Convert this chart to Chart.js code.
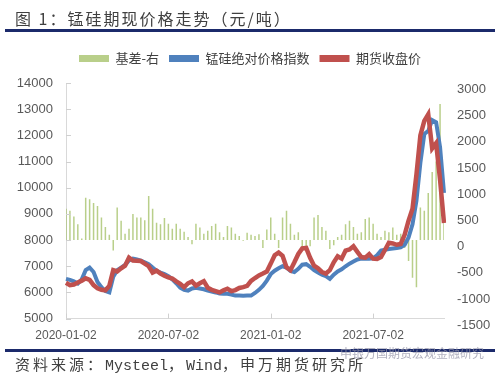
<!DOCTYPE html>
<html><head><meta charset="utf-8">
<script src="https://cdn.jsdelivr.net/npm/chart.js@4/dist/chart.umd.min.js"></script>
<style>
html,body{margin:0;padding:0;background:#fff;}
#wrap{position:relative;width:500px;height:376px;overflow:hidden;}
#c{position:absolute;left:0;top:0;}
.t{position:absolute;white-space:nowrap;color:#404040;}
#title{left:15px;top:6px;font:16px "Noto Sans CJK SC",sans-serif;letter-spacing:2px;}
#l1{position:absolute;left:5px;top:29px;width:490px;height:3px;background:#1b2a6b;}
#l2{position:absolute;left:5px;top:349px;width:490px;height:3px;background:#1b2a6b;}
#src{left:15px;top:353px;font:15px "Liberation Mono","Noto Sans CJK SC",monospace;}
#src .cj{letter-spacing:3px;font-family:"Noto Sans CJK SC",sans-serif;}
#wm{left:340px;top:344px;font:12px "Noto Sans CJK SC",sans-serif;color:rgba(150,150,170,0.75);}
</style></head>
<body><div id="wrap">
<canvas id="c" width="500" height="376"></canvas>
<div class="t" id="title">图 1：锰硅期现价格走势（元/吨）</div>
<div id="l1"></div><div id="l2"></div>
<div class="t" id="src"><span class="cj">资料来源：</span>Mysteel<span class="cj">，</span>Wind<span class="cj">，申万期货研究所</span></div>
<div class="t" id="wm">申银万国期货宏观金融研究</div>
</div>
<script>
// weekly observations from 2020-01-02
const tickLabels = ['2020-01-02','2020-07-02','2021-01-02','2021-07-02'];
const tickIndex = [0,26,52,78];
const indexPrice = [6520,6480,6420,6340,6500,6850,6950,6780,6400,6200,6050,6000,6600,6850,6950,7050,7220,7290,7260,7210,
7150,7080,6950,6830,6760,6700,6620,6500,6350,6180,6100,6070,6150,6180,6150,6120,6070,6030,6000,5960,
5950,5950,5920,5880,5880,5870,5880,5880,5980,6100,6250,6450,6700,6830,6920,7000,6950,6820,6780,6900,
7060,7080,6980,6850,6760,6680,6620,6520,6680,6800,6880,7000,7100,7180,7260,7290,7290,7290,7300,7420,
7600,7630,7660,7680,7700,7720,7820,8100,8600,9500,10950,12050,12170,12580,12500,11550,9800];
const futuresClose = [6370,6280,6300,6380,6450,6540,6480,6280,6160,6100,6080,6250,6850,6800,6920,7020,7330,7220,7210,7200,
7100,7000,6760,6830,6720,6640,6570,6530,6420,6330,6200,6350,6420,6260,6350,6430,6180,6100,6050,6000,
6080,6140,6050,6090,6170,6200,6250,6440,6550,6650,6720,6800,7100,7420,7520,7400,6960,6850,7150,7470,
7680,7700,7320,7020,6920,6780,6720,6850,7150,7380,7290,7600,7640,7760,7550,7350,7330,7460,7290,7280,
7350,7620,7900,7870,7820,7850,8200,8740,9200,10500,12000,12550,12800,11500,11700,10300,8650];
const basis = [600,560,450,300,30,810,780,710,650,430,250,100,-200,620,370,120,215,500,430,430,
380,840,600,330,300,420,310,215,310,215,160,60,-80,310,240,120,180,270,310,150,
60,270,240,120,80,-15,140,100,80,110,-150,200,430,120,-150,430,560,310,100,150,
-150,-200,-120,430,480,250,180,-170,-100,60,100,300,370,250,120,150,400,430,310,120,
60,180,150,240,100,120,-150,-400,-720,-900,620,560,900,1300,1500,2600,700];

const categories = [];
{ const d0 = new Date(Date.UTC(2020,0,2));
  for (let i=0;i<indexPrice.length;i++){ const d=new Date(d0.getTime()+i*7*86400000); categories.push(d.toISOString().slice(0,10)); } }

const innerTicks = {
  id:'innerTicks',
  afterDatasetsDraw(chart){
    const ctx=chart.ctx, x=chart.scales.x, y=chart.scales.y;
    ctx.save(); ctx.strokeStyle='#d0d0d0'; ctx.lineWidth=1;
    tickIndex.forEach(i=>{const px=Math.round(x.getPixelForValue(i))+0.5; ctx.beginPath(); ctx.moveTo(px,y.bottom); ctx.lineTo(px,y.bottom-5); ctx.stroke();});
    y.ticks.forEach(t=>{const py=Math.round(y.getPixelForValue(t.value))+0.5; ctx.beginPath(); ctx.moveTo(x.left,py); ctx.lineTo(x.left+5,py); ctx.stroke();});
    ctx.restore();
  }
};
// extra gap below the legend
const legendGap = {
  id:'legendGap',
  beforeLayout(chart){
    const lg = chart.legend;
    if (lg && !lg._gapPatched){ const f = lg.fit; lg.fit = function(){ f.apply(this, arguments); this.height += 8; }; lg._gapPatched = true; }
  }
};

const tickFont = {family:'"Liberation Sans", Arial, sans-serif', size:13};
const plain = v => String(v);
new Chart(document.getElementById('c'), {
  data:{
    labels: categories,
    datasets:[
      {type:'bar', label:'基差-右', data:basis, yAxisID:'y1', backgroundColor:'rgba(155,187,89,0.7)', barPercentage:0.38, categoryPercentage:1, order:3},
      {type:'line', label:'锰硅绝对价格指数', data:indexPrice, yAxisID:'y', borderColor:'#4f81bd', backgroundColor:'#4f81bd', borderWidth:4, pointRadius:0, tension:0, order:2},
      {type:'line', label:'期货收盘价', data:futuresClose, yAxisID:'y', borderColor:'#c0504d', backgroundColor:'#c0504d', borderWidth:4.5, pointRadius:0, tension:0, order:1}
    ]
  },
  options:{
    responsive:false, animation:false,
    layout:{padding:{top:42,bottom:23,left:0,right:0}},
    plugins:{
      tooltip:{enabled:false},
      legend:{position:'top', labels:{boxWidth:30, boxHeight:7, padding:10, color:'#404040', font:{family:'"Noto Sans CJK SC", sans-serif', size:13},
        generateLabels(chart){ const items=Chart.defaults.plugins.legend.labels.generateLabels(chart); items.sort((a,b)=>a.datasetIndex-b.datasetIndex); items.forEach(it=>{it.lineWidth=0; it.strokeStyle='rgba(0,0,0,0)';}); return items; }}}
    },
    scales:{
      x:{type:'category', offset:false,
        grid:{display:false, drawTicks:false},
        border:{display:true, color:'#d9d9d9'},
        ticks:{autoSkip:false, maxRotation:0, padding:10, color:'#595959', font:{family:tickFont.family, size:12},
          callback(v,i){ const k=tickIndex.indexOf(i); return k>=0?tickLabels[k]:''; }}},
      y:{position:'left', min:5000, max:14000,
        grid:{display:false, drawTicks:false},
        border:{display:true, color:'#d9d9d9'},
        ticks:{stepSize:1000, padding:13, color:'#595959', font:tickFont, callback:plain},
        afterFit(s){ s.width=66; }},
      y1:{position:'right', min:-1500, max:3000,
        grid:{display:false, drawTicks:false},
        border:{display:false},
        ticks:{stepSize:500, padding:13, color:'#595959', font:tickFont, align:'start', callback:plain},
        afterFit(s){ s.width=56; }}
    }
  },
  plugins:[innerTicks, legendGap]
});
</script>
</body></html>
